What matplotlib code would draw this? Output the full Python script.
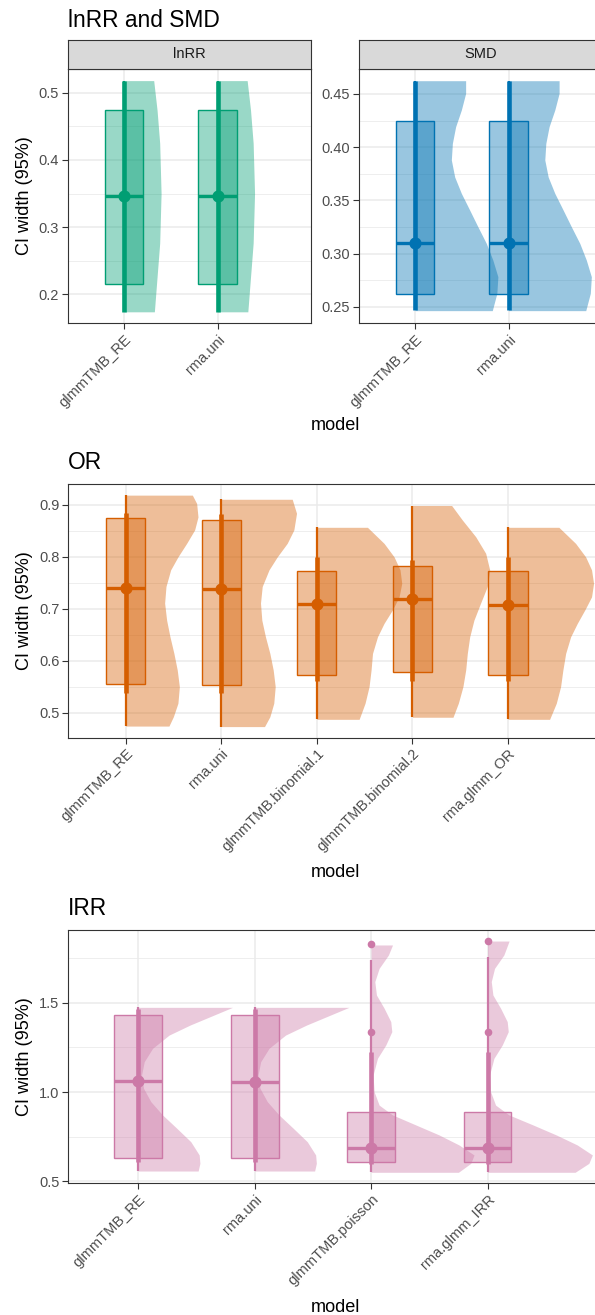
import matplotlib
matplotlib.use("Agg")
import matplotlib.pyplot as plt
import matplotlib.colors as mcolors
from matplotlib.patches import Rectangle
import numpy as np

plt.rcParams['font.family'] = ['Liberation Sans', 'DejaVu Sans']

# ---- data ----
# lnRR
lnrr_models = ["glmmTMB_RE", "rma.uni"]
lnrr_q1 = [0.216, 0.216]
lnrr_med = [0.346, 0.346]
lnrr_q3 = [0.474, 0.474]
lnrr_i66 = [(0.174, 0.517), (0.174, 0.517)]
lnrr_i95 = [(0.174, 0.517), (0.174, 0.517)]
lnrr_dens_y = [[0.174, 0.226, 0.276, 0.350, 0.425, 0.474, 0.518]] * 2
lnrr_dens_w = [[0.324, 0.353, 0.381, 0.396, 0.381, 0.353, 0.317]] * 2

# SMD
smd_models = ["glmmTMB_RE", "rma.uni"]
smd_q1 = [0.262, 0.262]
smd_med = [0.310, 0.310]
smd_q3 = [0.4246, 0.4246]
smd_i66 = [(0.2465, 0.4620), (0.2465, 0.4620)]
smd_i95 = [(0.2465, 0.4620), (0.2465, 0.4620)]
smd_dens_y = [[0.2463, 0.2626, 0.2782, 0.2939, 0.3096, 0.3252, 0.3409, 0.3566,
               0.3720, 0.3880, 0.4036, 0.4193, 0.4350, 0.4506, 0.4625]] * 2
smd_dens_w = [[0.826, 0.875, 0.886, 0.832, 0.762, 0.672, 0.584, 0.495,
               0.424, 0.388, 0.399, 0.434, 0.495, 0.541, 0.541]] * 2

# OR
or_models = ["glmmTMB_RE", "rma.uni", "glmmTMB.binomial.1", "glmmTMB.binomial.2", "rma.glmm_OR"]
or_q1 = [0.555, 0.553, 0.573, 0.578, 0.572]
or_med = [0.741, 0.7376, 0.7087, 0.719, 0.7073]
or_q3 = [0.8755, 0.871, 0.7722, 0.783, 0.7728]
or_i66 = [(0.538, 0.885), (0.538, 0.883), (0.5615, 0.7992), (0.5615, 0.794), (0.5615, 0.7992)]
or_i95 = [(0.474, 0.919), (0.473, 0.911), (0.487, 0.857), (0.491, 0.899), (0.487, 0.857)]
or_dens_y = [
    [0.474, 0.492, 0.518, 0.550, 0.582, 0.614, 0.646, 0.678, 0.711, 0.743, 0.775, 0.800, 0.826, 0.852, 0.877, 0.903, 0.919],
    [0.473, 0.492, 0.518, 0.550, 0.582, 0.614, 0.646, 0.678, 0.711, 0.743, 0.775, 0.800, 0.826, 0.852, 0.884, 0.911],
    [0.487, 0.518, 0.550, 0.582, 0.614, 0.646, 0.672, 0.698, 0.723, 0.749, 0.775, 0.800, 0.826, 0.857],
    [0.491, 0.518, 0.550, 0.582, 0.614, 0.646, 0.678, 0.711, 0.743, 0.775, 0.807, 0.839, 0.871, 0.899],
    [0.487, 0.518, 0.550, 0.582, 0.614, 0.646, 0.672, 0.698, 0.723, 0.749, 0.775, 0.800, 0.826, 0.857],
]
or_dens_w = [
    [0.453, 0.499, 0.547, 0.562, 0.540, 0.505, 0.464, 0.429, 0.408, 0.422, 0.471, 0.547, 0.638, 0.722, 0.757, 0.743, 0.698],
    [0.453, 0.509, 0.550, 0.565, 0.544, 0.509, 0.463, 0.425, 0.411, 0.429, 0.500, 0.586, 0.690, 0.760, 0.788, 0.743],
    [0.443, 0.505, 0.547, 0.568, 0.583, 0.635, 0.704, 0.792, 0.861, 0.889, 0.871, 0.809, 0.704, 0.530],
    [0.425, 0.481, 0.529, 0.558, 0.575, 0.600, 0.644, 0.714, 0.784, 0.809, 0.767, 0.662, 0.523, 0.411],
    [0.436, 0.506, 0.551, 0.575, 0.604, 0.656, 0.726, 0.805, 0.875, 0.896, 0.875, 0.813, 0.708, 0.533],
]

# IRR
irr_models = ["glmmTMB_RE", "rma.uni", "glmmTMB.poisson", "rma.glmm_IRR"]
irr_q1 = [0.633, 0.630, 0.607, 0.607]
irr_med = [1.0635, 1.0545, 0.689, 0.689]
irr_q3 = [1.431, 1.431, 0.890, 0.890]
irr_i66 = [(0.607, 1.465), (0.607, 1.465), (0.596, 1.226), (0.596, 1.226)]
irr_i95 = [(0.558, 1.476), (0.558, 1.476), (0.551, 1.739), (0.551, 1.757)]
irr_outliers = [[], [], [1.338, 1.827], [1.338, 1.847]]
irr_re_y = [0.558, 0.601, 0.648, 0.722, 0.797, 0.872, 0.946, 1.021, 1.095, 1.170, 1.245, 1.319, 1.375, 1.431, 1.474]
irr_re_w = [0.515, 0.530, 0.524, 0.452, 0.332, 0.209, 0.109, 0.046, 0.029, 0.052, 0.124, 0.266, 0.446, 0.652, 0.810]
irr_dens_y = [
    irr_re_y,
    irr_re_y,
    [0.551, 0.601, 0.648, 0.704, 0.760, 0.816, 0.872, 0.927, 1.002, 1.095, 1.189, 1.263, 1.338, 1.394, 1.469, 1.543, 1.618, 1.692, 1.767, 1.823],
    [0.551, 0.601, 0.648, 0.704, 0.760, 0.816, 0.872, 0.927, 1.002, 1.095, 1.189, 1.263, 1.338, 1.394, 1.469, 1.543, 1.618, 1.692, 1.767, 1.845],
]
irr_dens_w = [
    irr_re_w,
    irr_re_w,
    [0.750, 0.856, 0.884, 0.755, 0.584, 0.384, 0.184, 0.069, 0.026, 0.017, 0.055, 0.126, 0.178, 0.169, 0.112, 0.046, 0.032, 0.069, 0.149, 0.184],
    [0.752, 0.870, 0.900, 0.770, 0.590, 0.390, 0.184, 0.069, 0.026, 0.017, 0.055, 0.126, 0.178, 0.169, 0.112, 0.046, 0.032, 0.060, 0.140, 0.185],
]

lnrr_yticks = [0.2, 0.3, 0.4, 0.5]
smd_yticks = [0.25, 0.30, 0.35, 0.40, 0.45]
or_yticks = [0.5, 0.6, 0.7, 0.8, 0.9]
irr_yticks = [0.5, 1.0, 1.5]

GREEN, BLUE, ORANGE, PINK = "#009E73", "#0072B2", "#D55E00", "#CC79A7"

# ---- figure ----
W, H = 595, 1315
fig = plt.figure(figsize=(W / 100, H / 100), dpi=100)


def px_axes(x0, y0, x1, y1):
    return fig.add_axes([x0 / W, 1 - y1 / H, (x1 - x0) / W, (y1 - y0) / H])


def style_axes(ax, models, yticks, fmt, ylim, xlim):
    ax.set_xticks(range(1, len(models) + 1))
    ax.set_xticklabels(models, rotation=45, ha="right", va="top", rotation_mode="anchor")
    ax.set_yticks(yticks)
    ax.set_yticklabels([fmt % t for t in yticks])
    step = yticks[1] - yticks[0]
    ax.set_yticks([yticks[0] - step / 2] + [t + step / 2 for t in yticks], minor=True)
    ax.set_xlim(*xlim)
    ax.set_ylim(*ylim)
    ax.tick_params(which="major", length=4, width=0.8, color="#333333",
                   labelcolor="#4D4D4D", labelsize=10.5, pad=2.5)
    ax.tick_params(which="minor", length=0)
    ax.grid(which="major", color="#EBEBEB", lw=1.1)
    ax.grid(which="minor", axis="y", color="#EBEBEB", lw=0.6)
    ax.set_axisbelow(True)
    for s in ax.spines.values():
        s.set_color("#333333")
        s.set_linewidth(0.8)


def draw_group(ax, color, q1, med, q3, i66, i95, dens_y, dens_w, outliers=None):
    hw = 0.205
    for k in range(len(q1)):
        x = k + 1
        y = np.array(dens_y[k])
        ax.fill_betweenx(y, x, x + np.array(dens_w[k]), color=color, alpha=0.4, lw=0, zorder=2)
        ax.add_patch(Rectangle((x - hw, q1[k]), 2 * hw, q3[k] - q1[k],
                               facecolor=mcolors.to_rgba(color, 0.4), edgecolor=color,
                               lw=1.0, zorder=3))
        ax.plot([x - hw, x + hw], [med[k], med[k]], color=color, lw=2.4,
                solid_capstyle="butt", zorder=4)
        ax.plot([x, x], i95[k], color=color, lw=1.6, solid_capstyle="butt", zorder=5)
        ax.plot([x, x], i66[k], color=color, lw=3.3, solid_capstyle="butt", zorder=5)
        ax.plot([x], [med[k]], "o", color=color, ms=8.8, mec="none", zorder=6)
        if outliers and outliers[k]:
            ax.plot([x] * len(outliers[k]), outliers[k], "o", color=color, ms=5.5,
                    mec="none", zorder=6)


def strip(x0, x1, label):
    s = px_axes(x0, 40, x1, 69)
    s.set_facecolor("#D9D9D9")
    s.set_xticks([])
    s.set_yticks([])
    for sp in s.spines.values():
        sp.set_color("#333333")
        sp.set_linewidth(0.8)
    s.text(0.5, 0.5, label, transform=s.transAxes, ha="center", va="center",
           fontsize=10.5, color="#1A1A1A")


def ylabel(ycenter):
    fig.text(24.5 / W, 1 - ycenter / H, "CI width (95%)", rotation=90, ha="center",
             va="center", fontsize=13.1, color="black")


def xlabel(ybase):
    fig.text(335.5 / W, 1 - ybase / H, "model", ha="center", va="baseline",
             fontsize=13.1, color="black")


def title(txt, ybase):
    fig.text(68 / W, 1 - ybase / H, txt, ha="left", va="baseline", fontsize=16.4,
             color="black")


# panel 1: lnRR and SMD
title("lnRR and SMD", 26.7)
ax1 = px_axes(68, 69, 311, 323.3)
style_axes(ax1, lnrr_models, lnrr_yticks, "%.1f", (0.1569, 0.5353), (0.4, 3.0))
draw_group(ax1, GREEN, lnrr_q1, lnrr_med, lnrr_q3, lnrr_i66, lnrr_i95, lnrr_dens_y, lnrr_dens_w)
strip(68, 311, "lnRR")

ax2 = px_axes(359, 69, 602, 323.3)
style_axes(ax2, smd_models, smd_yticks, "%.2f", (0.2344, 0.4735), (0.4, 3.0))
draw_group(ax2, BLUE, smd_q1, smd_med, smd_q3, smd_i66, smd_i95, smd_dens_y, smd_dens_w)
strip(359, 602, "SMD")
ylabel(196)
xlabel(430)

# panel 2: OR
title("OR", 469.3)
ax3 = px_axes(68.3, 483.5, 603.5, 737.7)
style_axes(ax3, or_models, or_yticks, "%.1f", (0.4516, 0.9414), (0.4, 6.0))
draw_group(ax3, ORANGE, or_q1, or_med, or_q3, or_i66, or_i95, or_dens_y, or_dens_w)
ylabel(610.5)
xlabel(876.7)

# panel 3: IRR
title("IRR", 915)
ax4 = px_axes(68.3, 930, 604, 1183.3)
style_axes(ax4, irr_models, irr_yticks, "%.1f", (0.4894, 1.9068), (0.4, 5.0))
draw_group(ax4, PINK, irr_q1, irr_med, irr_q3, irr_i66, irr_i95, irr_dens_y, irr_dens_w, irr_outliers)
ylabel(1056.7)
xlabel(1311.7)

fig.savefig("out.png", dpi=100)
